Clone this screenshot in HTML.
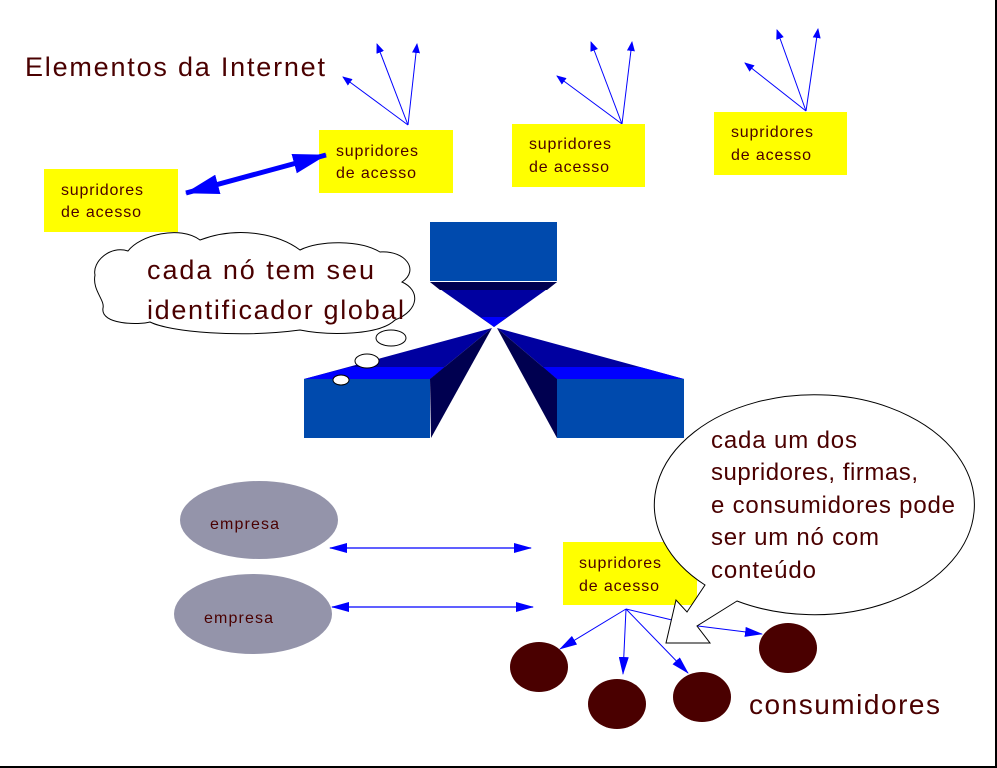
<!DOCTYPE html>
<html><head><meta charset="utf-8"><style>
html,body{margin:0;padding:0;background:#fff;}
svg{display:block;}
text{font-family:"Liberation Sans",sans-serif;fill:#4a0000;}
</style></head><body>
<svg width="997" height="768" viewBox="0 0 997 768" xmlns="http://www.w3.org/2000/svg">
<defs>
<marker id="ah" markerWidth="10" markerHeight="8" refX="9" refY="4" orient="auto" markerUnits="userSpaceOnUse"><path d="M0,0 L10,4 L0,8 Z" fill="#0000ff"/></marker>
<marker id="ahs" markerWidth="18" markerHeight="10" refX="17" refY="5" orient="auto-start-reverse" markerUnits="userSpaceOnUse"><path d="M0,0 L18,5 L0,10 Z" fill="#0000ff"/></marker>
<marker id="ahb" markerWidth="34" markerHeight="20" refX="33" refY="10" orient="auto-start-reverse" markerUnits="userSpaceOnUse"><path d="M0,0 L34,10 L0,20 Z" fill="#0000ff"/></marker>
</defs>
<rect x="0" y="0" width="997" height="768" fill="#fff"/>
<line x1="996" y1="0" x2="996" y2="768" stroke="#000" stroke-width="2"/>
<line x1="0" y1="767" x2="997" y2="767" stroke="#000" stroke-width="2"/>

<text x="25" y="76" font-size="27" textLength="300">Elementos da Internet</text>

<!-- fans -->
<g stroke="#0000ff" stroke-width="1" marker-end="url(#ah)">
<line x1="408" y1="125" x2="343" y2="77"/><line x1="408" y1="125" x2="377" y2="44"/><line x1="408" y1="125" x2="417" y2="44"/>
<line x1="622" y1="124" x2="557" y2="76"/><line x1="622" y1="124" x2="591" y2="42"/><line x1="622" y1="124" x2="632" y2="42"/>
<line x1="806" y1="111" x2="745" y2="63"/><line x1="806" y1="111" x2="777" y2="30"/><line x1="806" y1="111" x2="818" y2="29"/>
</g>

<!-- yellow boxes -->
<g fill="#ffff00">
<rect x="44" y="169" width="134" height="63"/>
<rect x="319" y="130" width="134" height="63"/>
<rect x="512" y="124" width="133" height="63"/>
<rect x="714" y="112" width="133" height="63"/>
<rect x="563" y="542" width="134" height="63"/>
</g>
<g font-size="16">
<text x="61" y="195" textLength="82">supridores</text><text x="61" y="217" textLength="80">de acesso</text>
<text x="336" y="156" textLength="82">supridores</text><text x="336" y="178" textLength="80">de acesso</text>
<text x="529" y="149" textLength="82">supridores</text><text x="529" y="172" textLength="80">de acesso</text>
<text x="731" y="137" textLength="82">supridores</text><text x="731" y="160" textLength="80">de acesso</text>
<text x="579" y="568" textLength="82">supridores</text><text x="579" y="591" textLength="80">de acesso</text>
</g>

<line x1="186" y1="193" x2="326" y2="155" stroke="#0000ff" stroke-width="5" marker-start="url(#ahb)" marker-end="url(#ahb)"/>

<!-- blue structure -->
<rect x="430" y="222" width="127" height="59" fill="#004aad"/>
<polygon points="430,282 557,282 494,327" fill="#0000a0"/>
<polygon points="430,282 557,282 547,290 440,290" fill="#000050"/>
<polygon points="481,317 507,317 494,327" fill="#0000ff"/>
<rect x="304" y="379" width="126" height="59" fill="#004aad"/>
<polygon points="304,379 492,328 430,379" fill="#0000a0"/>
<polygon points="304,379 430,379 445,367 350,367" fill="#0000ff"/>
<polygon points="430,379 492,328 431,438" fill="#000050"/>
<rect x="557" y="379" width="127" height="59" fill="#004aad"/>
<polygon points="497,328 684,379 557,379" fill="#0000a0"/>
<polygon points="557,379 684,379 640,367 542,367" fill="#0000ff"/>
<polygon points="497,328 557,379 557,438" fill="#000050"/>

<!-- cloud -->
<path d="M128,251 C110,245 92,262 95,275 C92,290 105,300 103,308 C100,325 140,325 150,322 C170,332 240,338 300,330 C330,336 380,335 395,320 C420,310 420,290 402,282 C420,270 405,250 380,252 C360,240 320,240 300,250 C280,235 240,225 200,240 C180,225 140,235 128,251 Z" fill="#fff" stroke="#000" stroke-width="1"/>
<text x="147" y="279" font-size="27" textLength="227">cada nó tem seu</text>
<text x="147" y="319" font-size="27" textLength="257">identificador global</text>
<ellipse cx="391" cy="338" rx="15" ry="8" fill="#fff" stroke="#000"/>
<ellipse cx="367" cy="361" rx="12" ry="7" fill="#fff" stroke="#000"/>
<ellipse cx="341" cy="380" rx="8" ry="5" fill="#fff" stroke="#000"/>

<!-- empresas -->
<ellipse cx="259" cy="520" rx="79" ry="39" fill="#9494aa"/>
<ellipse cx="253" cy="614" rx="79" ry="40" fill="#9494aa"/>
<text x="210" y="529" font-size="16" textLength="69">empresa</text>
<text x="204" y="623" font-size="16" textLength="69">empresa</text>
<g stroke="#0000ff" stroke-width="1.3" marker-start="url(#ahs)" marker-end="url(#ahs)">
<line x1="330" y1="548" x2="531" y2="548"/>
<line x1="332" y1="607" x2="533" y2="607"/>
</g>

<!-- consumer arrows -->
<g stroke="#0000ff" stroke-width="1" marker-end="url(#ahs)">
<line x1="626" y1="609" x2="560" y2="649"/>
<line x1="626" y1="609" x2="623" y2="674"/>
<line x1="626" y1="609" x2="688" y2="673"/>
<line x1="698" y1="626" x2="762" y2="634"/>
</g>
<line x1="626" y1="609" x2="672" y2="620" stroke="#0000ff" stroke-width="1"/>

<!-- speech bubble -->
<path d="M705,585 A160,110 0 1 1 737,601 L697,626 L710,643 L666,643 L676,600 L687,612 Z" fill="#fff" stroke="#000" stroke-width="1"/>
<g font-size="24">
<text x="711" y="448" textLength="146">cada um dos</text>
<text x="711" y="480" textLength="207">supridores, firmas,</text>
<text x="711" y="513" textLength="244">e consumidores pode</text>
<text x="711" y="545" textLength="168">ser um nó com</text>
<text x="711" y="578" textLength="105">conteúdo</text>
</g>

<!-- consumers -->
<g fill="#4a0000">
<ellipse cx="539" cy="667" rx="29" ry="25"/>
<ellipse cx="617" cy="704" rx="29" ry="25"/>
<ellipse cx="702" cy="697" rx="29" ry="25"/>
<ellipse cx="788" cy="648" rx="29" ry="25"/>
</g>
<text x="749" y="714" font-size="28" textLength="191">consumidores</text>
</svg>
</body></html>
